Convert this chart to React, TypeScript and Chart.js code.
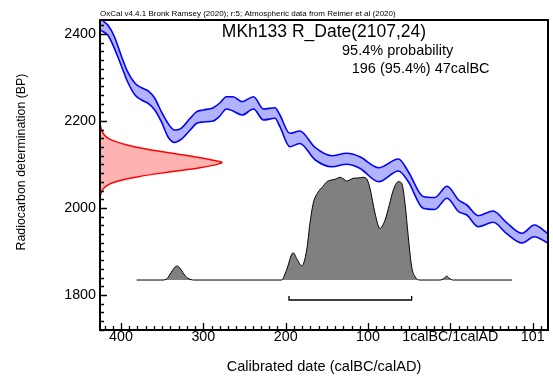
import React, { useEffect, useRef } from 'react';
import { Chart, registerables } from 'chart.js';

Chart.register(...registerables);

// Calibration curve (IntCal20 band), calendar year (BC negative) vs BP
const curveYears = [-426, -421, -416, -408, -400, -392, -383, -375, -367, -359, -351, -343, -335, -327, -316, -308, -300, -288, -280, -272, -264, -253, -239, -227, -213, -207, -195, -183, -164, -144, -126, -110, -87, -63, -51, -33, -19, -4, 10, 20, 34, 52, 68, 87, 102, 119];
const curveUpperBP = [2440, 2428.7, 2420.7, 2393.8, 2351.7, 2313.3, 2286.7, 2276.5, 2269, 2252.2, 2221.4, 2194.7, 2179.3, 2183.2, 2206.2, 2221.4, 2225.3, 2230.6, 2241.4, 2255.9, 2255.9, 2244.4, 2255.9, 2227.6, 2230.6, 2213.8, 2171.7, 2177, 2138.6, 2120.2, 2125.7, 2117.9, 2092.6, 2112.6, 2083.4, 2026.4, 2024.1, 2050.1, 2018.4, 2006.9, 1982.3, 1993.1, 1967.1, 1941.8, 1960.9, 1940.2];
const curveLowerBP = [2410.3, 2404.6, 2397.7, 2367.1, 2328.7, 2290.3, 2259.8, 2248.3, 2240.7, 2225.3, 2198.4, 2163.9, 2150.6, 2157.5, 2179.3, 2194.7, 2197.7, 2200, 2211.5, 2227.6, 2223, 2213.8, 2227.6, 2202.3, 2206.2, 2186.9, 2140.9, 2148.3, 2110.3, 2094.9, 2100.5, 2091.3, 2060.5, 2085.1, 2060.5, 1999.3, 1996.6, 2022.3, 1991.5, 1983.9, 1957, 1967.1, 1941.8, 1919.5, 1934, 1918.8];

// Radiocarbon measurement R_Date(2107,24): BP vs drawn density (in years from the axis)
const redBP = [2199, 2191, 2182, 2174, 2166, 2159, 2152, 2145, 2138, 2131, 2124, 2118, 2112, 2108, 2105, 2102, 2098, 2092, 2086, 2079, 2072, 2065, 2058, 2051, 2044, 2036, 2028, 2019];
const redWidth = [0, 0.4, 1.5, 3.2, 6.1, 11.2, 20, 32.8, 49.8, 70.4, 93.5, 114.2, 131.8, 142.1, 148.2, 145.1, 137.2, 119.7, 97.8, 70.4, 46.8, 28.2, 15.5, 7.9, 3.9, 1.7, 0.5, 0];

// Calibrated posterior distribution (drawn above its baseline)
const postYears = [-381, -349, -344, -339, -335, -332, -329, -325, -320, -315, -312, -205, -199, -191, -186, -180.5, -174.5, -170.5, -166.5, -160.4, -155, -150.2, -145, -140.1, -134, -130, -125.9, -122, -117.9, -112, -105.7, -100.8, -97.6, -91.5, -85.5, -79.4, -74, -69.3, -63.2, -59.1, -55.1, -51.1, -47, -42.9, -36.9, -12.6, -7.5, -4.4, -1.5, 3.6, 75];
const postBP = [1834.4, 1834.4, 1838, 1852, 1863, 1866.7, 1863, 1852, 1840, 1835.5, 1834.4, 1834.4, 1857, 1897, 1882, 1867, 1903, 1965, 2011, 2037, 2049, 2060, 2064, 2066, 2070.6, 2067, 2062, 2065, 2068.3, 2069, 2070.6, 2064.3, 2045, 1988, 1953, 1972, 2008, 2041, 2060.5, 2057, 2011, 1934, 1865, 1842, 1834.4, 1834.4, 1838.5, 1843.5, 1838.5, 1834.4, 1834.4];
const postBaseBP = 1834.4;

// 95.4% range bracket
const rangeYears = [-196, -47];
const rangeBP = [1797.7, 1788.5];

const xTickValues = [-400, -300, -200, -100, 0, 100];
const xTickLabels = ['400', '300', '200', '100', '1calBC/1calAD', '101'];
const yTickValues = [1800, 2000, 2200, 2400];

const X_MIN = -425.5;
const X_MAX = 118.6;
const Y_MIN = 1719.5;
const Y_MAX = 2432.2;

const FONT = "'Liberation Sans', Arial, Helvetica, sans-serif";

const decorPlugin = {
  id: 'oxcalDecor',
  afterDraw(chart: any) {
    const { ctx, chartArea, scales } = chart;
    const x = scales.x;
    const y = scales.y;
    ctx.save();
    // ticks (inward)
    ctx.strokeStyle = '#000';
    ctx.lineWidth = 1.3;
    ctx.beginPath();
    for (let v = -420; v <= 110; v += 10) {
      const px = Math.round(x.getPixelForValue(v)) + 0.5;
      const len = xTickValues.includes(v) ? 7 : 4;
      ctx.moveTo(px, chartArea.bottom);
      ctx.lineTo(px, chartArea.bottom - len);
    }
    for (let v = 1720; v <= 2420; v += 20) {
      const py = Math.round(y.getPixelForValue(v)) + 0.5;
      const len = yTickValues.includes(v) ? 7 : 4;
      ctx.moveTo(chartArea.left, py);
      ctx.lineTo(chartArea.left + len, py);
    }
    ctx.stroke();
    // frame
    ctx.lineWidth = 2;
    ctx.strokeRect(chartArea.left, chartArea.top, chartArea.right - chartArea.left, chartArea.bottom - chartArea.top);

    // texts
    ctx.fillStyle = '#000';
    ctx.textBaseline = 'middle';
    ctx.textAlign = 'left';
    ctx.font = `8px ${FONT}`;
    ctx.fillText('OxCal v4.4.1 Bronk Ramsey (2020); r:5; Atmospheric data from Reimer et al (2020)', chartArea.left, 14);

    ctx.textAlign = 'center';
    ctx.font = `17.5px ${FONT}`;
    ctx.fillText('MKh133 R_Date(2107,24)', (chartArea.left + chartArea.right) / 2, 32.5);

    ctx.textAlign = 'left';
    ctx.font = `14.5px ${FONT}`;
    ctx.fillText('95.4% probability', 342, 50.7);
    ctx.fillText('196 (95.4%) 47calBC', 351.7, 69);

    ctx.save();
    ctx.translate(21.5, 162);
    ctx.rotate(-Math.PI / 2);
    ctx.textAlign = 'center';
    ctx.font = `12.4px ${FONT}`;
    ctx.fillText('Radiocarbon determination (BP)', 0, 0);
    ctx.restore();

    ctx.restore();
  },
};

export default function App() {
  const canvasRef = useRef<HTMLCanvasElement | null>(null);

  useEffect(() => {
    const canvas = canvasRef.current;
    if (!canvas) return;

    const curveUpper = curveYears.map((yr, i) => ({ x: yr, y: curveUpperBP[i] }));
    const curveLower = curveYears.map((yr, i) => ({ x: yr, y: curveLowerBP[i] }));
    const redData = redBP.map((bp, i) => ({ x: X_MIN + redWidth[i], y: bp }));
    const postData = postYears.map((yr, i) => ({ x: yr, y: postBP[i] }));
    const rangeData = [
      { x: rangeYears[0], y: rangeBP[0] },
      { x: rangeYears[0], y: rangeBP[1] },
      { x: rangeYears[1], y: rangeBP[1] },
      { x: rangeYears[1], y: rangeBP[0] },
    ];

    const chart = new Chart(canvas, {
      type: 'line',
      data: {
        datasets: [
          {
            label: 'range',
            data: rangeData,
            borderColor: '#000',
            borderWidth: 1.3,
            fill: false,
            tension: 0,
            pointRadius: 0,
          },
          {
            label: 'posterior',
            data: postData,
            borderColor: '#000',
            borderWidth: 1,
            backgroundColor: '#808080',
            fill: { value: postBaseBP },
            cubicInterpolationMode: 'monotone',
            pointRadius: 0,
          },
          {
            label: 'R_Date',
            data: redData,
            borderColor: '#ff0000',
            borderWidth: 1.5,
            backgroundColor: 'rgba(255,0,0,0.3)',
            fill: 'shape',
            tension: 0.3,
            pointRadius: 0,
          },
          {
            label: 'curve upper',
            data: curveUpper,
            borderColor: '#0000ff',
            borderWidth: 1.6,
            backgroundColor: 'rgba(0,0,255,0.3)',
            fill: '+1',
            cubicInterpolationMode: 'monotone',
            pointRadius: 0,
          },
          {
            label: 'curve lower',
            data: curveLower,
            borderColor: '#0000ff',
            borderWidth: 1.6,
            fill: false,
            cubicInterpolationMode: 'monotone',
            pointRadius: 0,
          },
        ],
      },
      options: {
        animation: false,
        responsive: false,
        devicePixelRatio: 1,
        layout: { padding: { top: 20, right: 5, left: 0, bottom: 0 } },
        plugins: {
          legend: { display: false },
          tooltip: { enabled: false },
          title: { display: false },
        },
        elements: { point: { radius: 0 } },
        scales: {
          x: {
            type: 'linear',
            min: X_MIN,
            max: X_MAX,
            grid: { display: false, drawTicks: false },
            border: { display: false },
            afterBuildTicks: (s: any) => {
              s.ticks = xTickValues.map((v) => ({ value: v }));
            },
            afterFit: (s: any) => {
              s.height = 48;
            },
            ticks: {
              autoSkip: false,
              maxRotation: 0,
              padding: 0,
              color: '#000',
              font: { family: FONT, size: 14.3, lineHeight: 1 },
              callback: (v: any) => xTickLabels[xTickValues.indexOf(Number(v))] ?? '',
            },
            title: {
              display: true,
              text: 'Calibrated date (calBC/calAD)',
              color: '#000',
              font: { family: FONT, size: 14.6, lineHeight: 1.2 },
              padding: { top: 0, bottom: 2 },
            },
          },
          y: {
            type: 'linear',
            min: Y_MIN,
            max: Y_MAX,
            grid: { display: false, drawTicks: false },
            border: { display: false },
            afterBuildTicks: (s: any) => {
              s.ticks = yTickValues.map((v) => ({ value: v }));
            },
            afterFit: (s: any) => {
              s.width = 100;
            },
            ticks: {
              padding: 4,
              color: '#000',
              font: { family: FONT, size: 14.3 },
              callback: (v: any) => String(v),
            },
          },
        },
      },
      plugins: [decorPlugin],
    } as any);

    return () => chart.destroy();
  }, []);

  return (
    <div style={{ position: 'fixed', left: 0, top: 0, width: 553, height: 378, background: '#fff' }}>
      <canvas ref={canvasRef} width={553} height={378} style={{ display: 'block', width: 553, height: 378 }} />
    </div>
  );
}
